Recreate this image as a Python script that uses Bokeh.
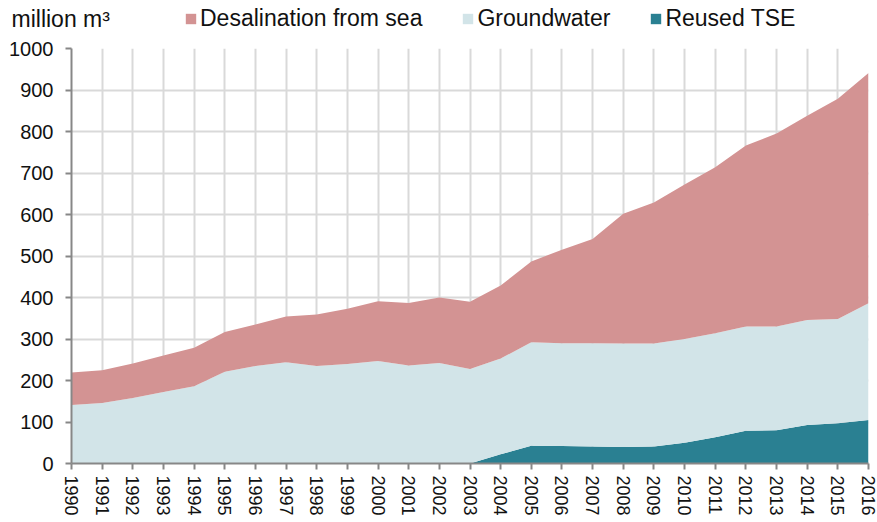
from bokeh.plotting import figure
from bokeh.models import Legend, LegendItem, Label, FixedTicker, Range1d, ColumnDataSource
from bokeh.embed import file_html
from bokeh.resources import INLINE

years = list(range(1990, 2017))
reused_tse = [0, 0, 0, 0, 0, 0, 0, 0, 0, 0, 0, 0, 0, 0,
              22, 43, 42, 41, 40, 41, 50, 63, 79, 80, 93, 97, 105]
groundwater = [141, 146, 158, 172, 186, 221, 235, 244, 235, 240, 247, 236, 242, 228,
               231, 249, 248, 249, 249, 248, 250, 251, 251, 250, 253, 251, 281]
desalination = [78, 79, 83, 88, 93, 96, 100, 110, 124, 133, 144, 151, 158, 162,
                176, 195, 225, 251, 313, 340, 372, 400, 436, 465, 492, 531, 555]
series_names = ["Desalination from sea", "Groundwater", "Reused TSE"]
y_ticks = list(range(0, 1001, 100))

C_TSE = "#2A8092"
C_GW = "#D2E4E8"
C_DESAL = "#D39393"
FONT = "Liberation Sans"

# ---------- header (unit + legend) ----------
hdr = figure(width=877, height=36, x_range=Range1d(0, 877), y_range=Range1d(0, 36),
             x_axis_type=None, y_axis_type=None, output_backend="svg",
             toolbar_location=None, min_border=0)
hdr.grid.visible = False
hdr.outline_line_color = None
# swatch-only renderers (kept outside the visible range) for the legend
swatches = [hdr.varea(x=[-20, -10], y1=[0, 0], y2=[1, 1], fill_color=c)
            for c in (C_DESAL, C_GW, C_TSE)]
legend = Legend(items=[LegendItem(label=n, renderers=[r]) for n, r in zip(series_names, swatches)],
                orientation="horizontal", location=(184, 4),
                label_text_font=FONT, label_text_font_size="23px", label_text_color="#111111",
                glyph_width=13, glyph_height=13, label_standoff=3, spacing=39,
                padding=0, margin=0, border_line_color=None, background_fill_alpha=0)
hdr.add_layout(legend, 'center')
hdr.add_layout(Label(x=11, y=18, x_units="screen", y_units="screen", text="million m³",
                     text_font=FONT, text_font_size="23px", text_color="#111111",
                     text_baseline="middle"))

# ---------- main chart ----------
src = ColumnDataSource(dict(year=years, tse=reused_tse, gw=groundwater, desal=desalination))

p = figure(frame_width=797, frame_height=415,
           x_range=Range1d(1990, 2016), y_range=Range1d(0, 1000),
           output_backend="svg", toolbar_location=None,
           min_border_left=71, min_border_top=12, min_border_right=9, min_border_bottom=59)

rs = p.varea_stack(['tse', 'gw', 'desal'], x='year', source=src,
                   color=[C_TSE, C_GW, C_DESAL])

p.outline_line_color = None

p.xaxis.ticker = FixedTicker(ticks=years)
p.yaxis.ticker = FixedTicker(ticks=y_ticks)
for ax in (p.xaxis[0], p.yaxis[0]):
    ax.axis_line_color = "#878787"
    ax.axis_line_width = 2
    ax.major_tick_line_color = "#878787"
    ax.major_tick_line_width = 2
    ax.major_tick_out = 6
    ax.major_tick_in = 0
    ax.minor_tick_line_color = None
    ax.major_label_text_font = FONT
    ax.major_label_text_color = "#111111"
p.yaxis.major_label_text_font_size = "20px"
p.xaxis.major_label_text_font_size = "18px"
p.xaxis.major_label_orientation = "vertical"
p.yaxis.major_label_standoff = 12
p.xaxis.major_label_standoff = 6

p.xgrid.grid_line_color = "#D9D9D9"
p.ygrid.grid_line_color = "#D9D9D9"
p.xgrid.grid_line_width = 2
p.ygrid.grid_line_width = 2

open("out.html", "w").write(file_html([hdr, p], INLINE))
